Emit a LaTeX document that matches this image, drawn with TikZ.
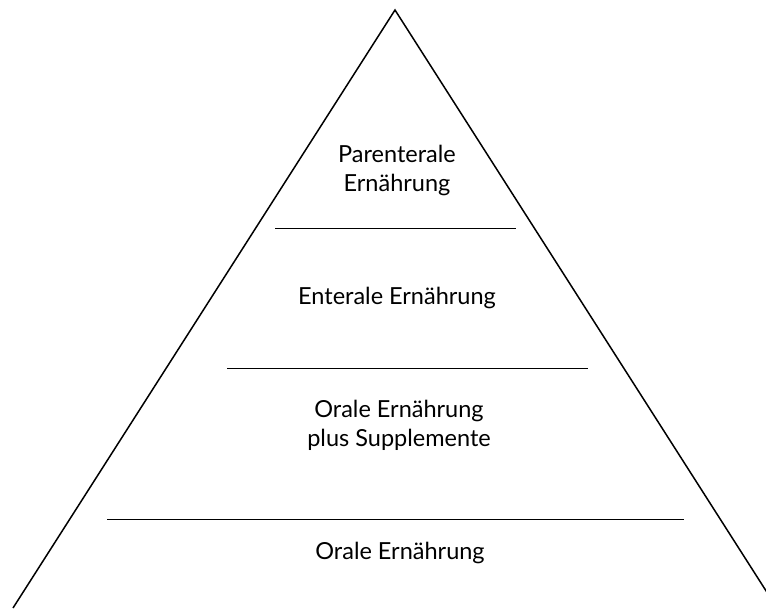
\documentclass[tikz,border=0pt]{standalone}
\usepackage{fontspec}
\setmainfont{Lato}
\begin{document}
\begin{tikzpicture}[x=1pt,y=-1pt,
  lvl/.style={align=center,font=\fontsize{23.5}{29}\selectfont,inner sep=0pt},
  rule/.style={line width=1.5pt}]
\useasboundingbox (0,0) rectangle (766,608);
\begin{scope}
\clip (0,0) rectangle (766,608);
\coordinate (apex) at (395,10);
\coordinate (bl) at (13,608);
\coordinate (br) at (777,608);
\draw[rule,line join=miter] (bl) -- (apex) -- (br);
\end{scope}
\draw[rule] (275,228.5) -- (516,228.5);
\draw[rule] (227,368.5) -- (588,368.5);
\draw[rule] (107,519.5) -- (684,519.5);
\node[lvl] (p) at (397,170) {Parenterale\\Ernährung};
\node[lvl] (e) at (397,298) {Enterale Ernährung};
\node[lvl] (os) at (399,425) {Orale Ernährung\\plus Supplemente};
\node[lvl] (o) at (400,553) {Orale Ernährung};
\end{tikzpicture}
\end{document}
